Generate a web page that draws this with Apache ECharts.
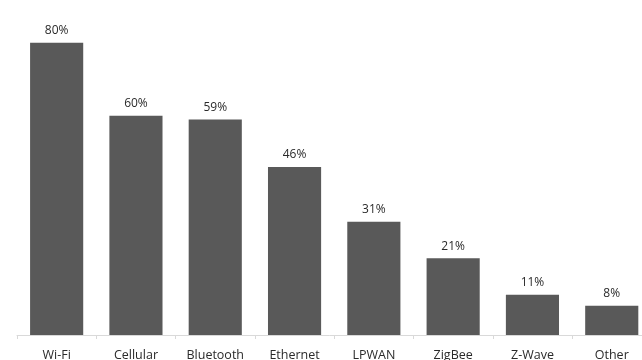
<!DOCTYPE html>
<html>
<head>
<meta charset="utf-8">
<script src="https://cdn.jsdelivr.net/npm/echarts@6/dist/echarts.min.js"></script>
<style>html,body{margin:0;padding:0;background:#fff;}#c{width:642px;height:360px;}</style>
</head>
<body>
<div id="c"></div>
<script>
const categories = ['Wi-Fi','Cellular','Bluetooth','Ethernet','LPWAN','ZigBee','Z-Wave','Other'];
const values = [80, 60, 59, 46, 31, 21, 11, 8];

const chart = echarts.init(document.getElementById('c'), null, {renderer:'canvas'});
chart.setOption({
  animation:false,
  backgroundColor:'#ffffff',
  grid:{left:17, top:42.7, right:-9.4, height:292.3, containLabel:false, outerBoundsMode:'none'},
  xAxis:{
    type:'category',
    data:categories,
    axisLine:{lineStyle:{color:'#d9d9d9', width:1}},
    axisTick:{show:true, length:4, lineStyle:{color:'#d9d9d9'}},
    axisLabel:{color:'#2a2a2a', fontFamily:'Open Sans', fontSize:12.5, margin:14}
  },
  yAxis:{type:'value', min:0, max:80, show:false, splitLine:{show:false}},
  series:[{
    type:'bar',
    data:values,
    barWidth:'67%',
    itemStyle:{color:'#595959'},
    label:{show:true, position:'top', distance:6, formatter:'{c}%', color:'#2a2a2a', fontFamily:'Open Sans', fontSize:12}
  }]
});
</script>
</body>
</html>
